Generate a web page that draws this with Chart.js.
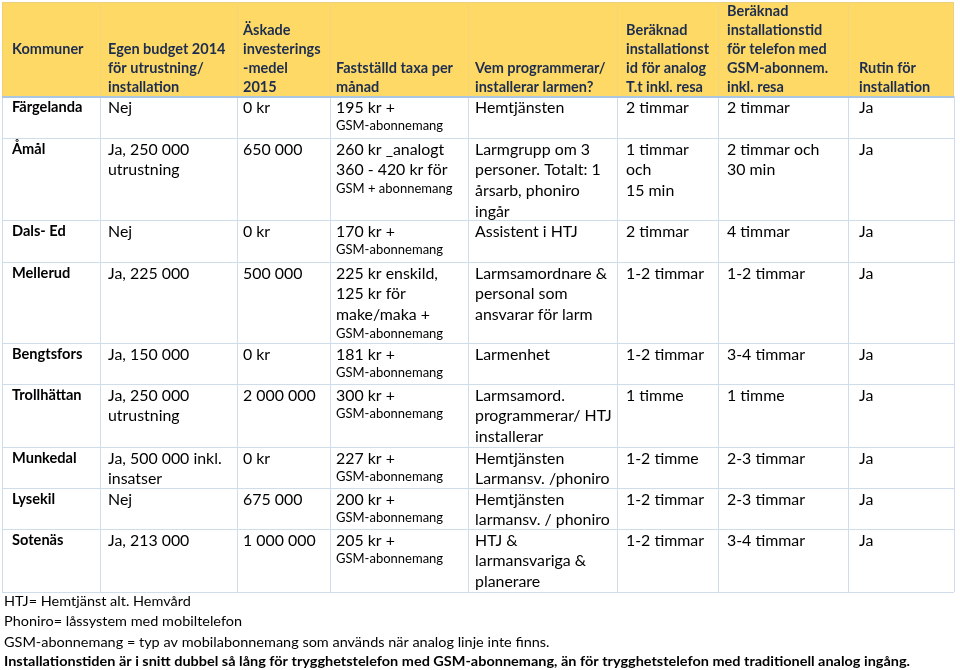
<!DOCTYPE html>
<html><head><meta charset="utf-8">
<script src="https://cdn.jsdelivr.net/npm/chart.js@4.4.1/dist/chart.umd.min.js"></script>
<style>html,body{margin:0;padding:0;background:#fff}#c{display:block}</style>
</head><body>
<canvas id="c" width="960" height="670"></canvas>
<script>
// ---- data ----
const headers = ["Kommuner", "Egen budget 2014\nför utrustning/\ninstallation", "Äskade\ninvesterings\n-medel\n2015", "Fastställd taxa per\nmånad", "Vem programmerar/\ninstallerar larmen?", "Beräknad\ninstallationst\nid för analog\nT.t inkl. resa", "Beräknad\ninstallationstid\nför telefon med\nGSM-abonnem.\ninkl. resa", "Rutin för\ninstallation"];
const kommuner = ["Färgelanda","Åmål","Dals- Ed","Mellerud","Bengtsfors","Trollhättan","Munkedal","Lysekil","Sotenäs"];
const budget = ["Nej","Ja, 250 000\nutrustning","Nej","Ja, 225 000","Ja, 150 000","Ja, 250 000\nutrustning","Ja, 500 000 inkl.\ninsatser","Nej","Ja, 213 000"];
const investering = ["0 kr","650 000","0 kr","500 000","0 kr","2 000 000","0 kr","675 000","1 000 000"];
const taxa = ["195 kr +","260 kr _analogt\n360 - 420 kr för","170 kr +","225 kr enskild,\n125 kr för\nmake/maka +","181 kr +","300 kr +","227 kr +","200 kr +","205 kr +"];
const taxaTillagg = ["GSM-abonnemang","GSM + abonnemang","GSM-abonnemang","GSM-abonnemang","GSM-abonnemang","GSM-abonnemang","GSM-abonnemang","GSM-abonnemang","GSM-abonnemang"];
const vem = ["Hemtjänsten","Larmgrupp om 3\npersoner. Totalt: 1\nårsarb, phoniro\ningår","Assistent i HTJ","Larmsamordnare &\npersonal som\nansvarar för larm","Larmenhet","Larmsamord.\nprogrammerar/ HTJ\ninstallerar","Hemtjänsten\nLarmansv. /phoniro","Hemtjänsten\nlarmansv. / phoniro","HTJ &\nlarmansvariga &\nplanerare"];
const analogTid = ["2 timmar","1 timmar\noch\n15 min","2 timmar","1-2 timmar","1-2 timmar","1 timme","1-2 timme","1-2 timmar","1-2 timmar"];
const gsmTid = ["2 timmar","2 timmar och\n30 min","4 timmar","1-2 timmar","3-4 timmar","1 timme","2-3 timmar","2-3 timmar","3-4 timmar"];
const rutin = ["Ja","Ja","Ja","Ja","Ja","Ja","Ja","Ja","Ja"];
const notes = ["HTJ= Hemtjänst alt. Hemvård","Phoniro= låssystem med mobiltelefon","GSM-abonnemang = typ av mobilabonnemang som används när analog linje inte finns.","Installationstiden är i snitt dubbel så lång för trygghetstelefon med GSM-abonnemang, än för trygghetstelefon med traditionell analog ingång."];

// ---- layout (scale units) ----
const L = {
  colEdges: [2, 100, 237, 330, 468, 617, 718, 848, 954],
  textX: [12, 108, 243, 336, 475, 626, 727, 859],
  headTop: 2, headBottom: 96,
  rowEdges: [96, 138, 220, 262, 343, 384, 447, 488, 529, 592],
  headLine: 18.8, headLastY: 87,
  firstLine: 11.5, lineH: 20.7, smallGap: 18.5,
  noteX: 4, noteY: [601, 621, 642, 661], noteLastWidth: 906
};
const FONT = 'Lato, "Open Sans", sans-serif';

const tablePlugin = {
  id: 'table',
  afterDraw(chart) {
    const ctx = chart.ctx, xs = chart.scales.x, ys = chart.scales.y;
    const X = v => xs.getPixelForValue(v), Y = v => ys.getPixelForValue(v);
    const ce = L.colEdges, re = L.rowEdges;
    ctx.save();
    // header fill
    ctx.fillStyle = '#FFD966';
    ctx.fillRect(X(ce[0]), Y(L.headTop), X(ce[ce.length-1]) - X(ce[0]), Y(L.headBottom) - Y(L.headTop));
    ctx.strokeStyle = '#ecd07a'; ctx.lineWidth = 1;
    ctx.strokeRect(X(ce[0]) + 0.5, Y(L.headTop) + 0.5, X(ce[ce.length-1]) - X(ce[0]) - 1, Y(L.headBottom) - Y(L.headTop));
    ctx.strokeStyle = '#f2d57c';
    for (let i = 1; i < ce.length - 1; i++) {
      ctx.beginPath(); ctx.moveTo(Math.round(X(ce[i])) + 0.5, Y(L.headTop)); ctx.lineTo(Math.round(X(ce[i])) + 0.5, Y(L.headBottom)); ctx.stroke();
    }
    // body grid
    ctx.strokeStyle = '#cfdcea'; ctx.lineWidth = 1;
    for (let i = 1; i < re.length; i++) {
      const y = Math.round(Y(re[i])) + 0.5;
      ctx.beginPath(); ctx.moveTo(X(ce[0]), y); ctx.lineTo(X(ce[ce.length-1]), y); ctx.stroke();
    }
    for (let i = 0; i < ce.length; i++) {
      const x = Math.round(X(ce[i])) + 0.5;
      ctx.beginPath(); ctx.moveTo(x, Y(re[0])); ctx.lineTo(x, Y(re[re.length-1])); ctx.stroke();
    }
    ctx.strokeStyle = '#a9c7e3'; ctx.lineWidth = 2;
    ctx.beginPath(); ctx.moveTo(X(ce[0]), Y(L.headBottom) + 1); ctx.lineTo(X(ce[ce.length-1]), Y(L.headBottom) + 1); ctx.stroke();

    ctx.textBaseline = 'middle'; ctx.textAlign = 'left';
    // headers
    ctx.fillStyle = '#1c2d4f';
    ctx.font = 'bold 14.5px ' + FONT;
    headers.forEach((h, c) => {
      const lines = h.split('\n');
      if (c === 0) {
        ctx.fillText(lines[0], X(L.textX[c]), Y((L.headTop + L.headBottom) / 2));
      } else {
        lines.forEach((ln, k) => {
          const y = L.headLastY - (lines.length - 1 - k) * L.headLine;
          ctx.fillText(ln, X(L.textX[c]), Y(y));
        });
      }
    });
    // body
    const cols = [kommuner, budget, investering, taxa, vem, analogTid, gsmTid, rutin];
    for (let r = 0; r < kommuner.length; r++) {
      const top = re[r];
      cols.forEach((arr, c) => {
        ctx.fillStyle = '#000';
        ctx.font = c === 0 ? 'bold 14.6px ' + FONT : '15.9px ' + FONT;
        const lines = arr[r].split('\n');
        const y = top + L.firstLine;
        lines.forEach((ln, k) => {
          ctx.fillText(ln, X(L.textX[c]), Y(y + k * L.lineH));
        });
        if (c === 3) {
          ctx.font = '13px ' + FONT;
          const ys2 = y + (lines.length - 1) * L.lineH + L.smallGap;
          ctx.fillText(taxaTillagg[r], X(L.textX[c]), Y(ys2));
        }
      });
    }
    // notes (condensed)
    ctx.fillStyle = '#000';
    ctx.font = 'bold 14px ' + FONT;
    const sx = L.noteLastWidth / ctx.measureText(notes[notes.length-1]).width;
    notes.forEach((n, i) => {
      ctx.font = (i === notes.length - 1 ? 'bold ' : '') + '14px ' + FONT;
      ctx.save();
      ctx.translate(X(L.noteX), Y(L.noteY[i]));
      ctx.scale(sx, 1);
      ctx.fillText(n, 0, 0);
      ctx.restore();
    });
    ctx.restore();
  }
};

new Chart(document.getElementById('c'), {
  type: 'scatter',
  data: { datasets: [{ data: [], showLine: false }] },
  options: {
    responsive: false, animation: false, events: [],
    layout: { padding: 0 },
    plugins: { legend: { display: false }, tooltip: { enabled: false }, title: { display: false } },
    scales: {
      x: { type: 'linear', min: 0, max: 960, display: false },
      y: { type: 'linear', min: 0, max: 670, reverse: true, display: false }
    }
  },
  plugins: [tablePlugin]
});
</script>
</body></html>
